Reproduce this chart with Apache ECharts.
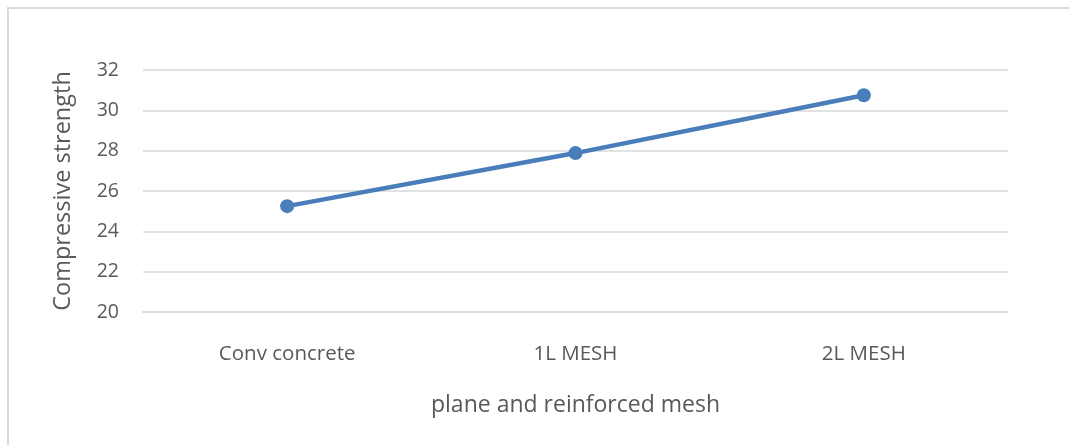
<!DOCTYPE html>
<html>
<head>
<meta charset="utf-8">
<script src="https://cdn.jsdelivr.net/npm/echarts@6/dist/echarts.min.js"></script>
<style>
  html, body { margin: 0; padding: 0; background: #ffffff; }
  #chart { width: 1069px; height: 445px; }
</style>
</head>
<body>
<div id="chart"></div>
<script>
// Compressive strength of plain vs. mesh-reinforced concrete
const categories = ['Conv concrete', '1L MESH', '2L MESH'];
const strength = [25.25, 27.88, 30.75];
const yTicks = { min: 20, max: 32, step: 2 };

const FONT = '"Open Sans", "Liberation Sans", sans-serif';
const TEXT = '#595959';
const GRID = '#d9d9d9';

const chart = echarts.init(document.getElementById('chart'));
chart.setOption({
  backgroundColor: '#ffffff',
  animation: false,
  graphic: [{
    type: 'rect',
    shape: { x: 8, y: 8, width: 1200, height: 600 },
    style: { fill: 'none', stroke: GRID, lineWidth: 2 },
    silent: true
  }],
  grid: { left: 143, right: 61, top: 70, bottom: 133, containLabel: false },
  xAxis: {
    type: 'category',
    data: categories,
    boundaryGap: true,
    axisLine: { show: true, lineStyle: { color: GRID, width: 1.5 } },
    axisTick: { show: false },
    axisLabel: { color: TEXT, fontFamily: FONT, fontSize: 20.5, margin: 32 },
    name: 'plane and reinforced mesh',
    nameLocation: 'middle',
    nameGap: 82,
    nameTextStyle: { color: TEXT, fontFamily: FONT, fontSize: 23 }
  },
  yAxis: {
    type: 'value',
    min: yTicks.min,
    max: yTicks.max,
    interval: yTicks.step,
    axisLine: { show: false },
    axisTick: { show: false },
    splitLine: { lineStyle: { color: GRID, width: 1.5 } },
    axisLabel: { color: TEXT, fontFamily: FONT, fontSize: 19.5, margin: 24 },
    name: 'Compressive strength',
    nameLocation: 'middle',
    nameGap: 68,
    nameRotate: 90,
    nameTextStyle: { color: TEXT, fontFamily: FONT, fontSize: 23.5 }
  },
  series: [{
    type: 'line',
    data: strength,
    symbol: 'circle',
    symbolSize: 14,
    lineStyle: { color: '#4a7ebb', width: 4.5 },
    itemStyle: { color: '#4a7ebb' }
  }]
});
</script>
</body>
</html>
